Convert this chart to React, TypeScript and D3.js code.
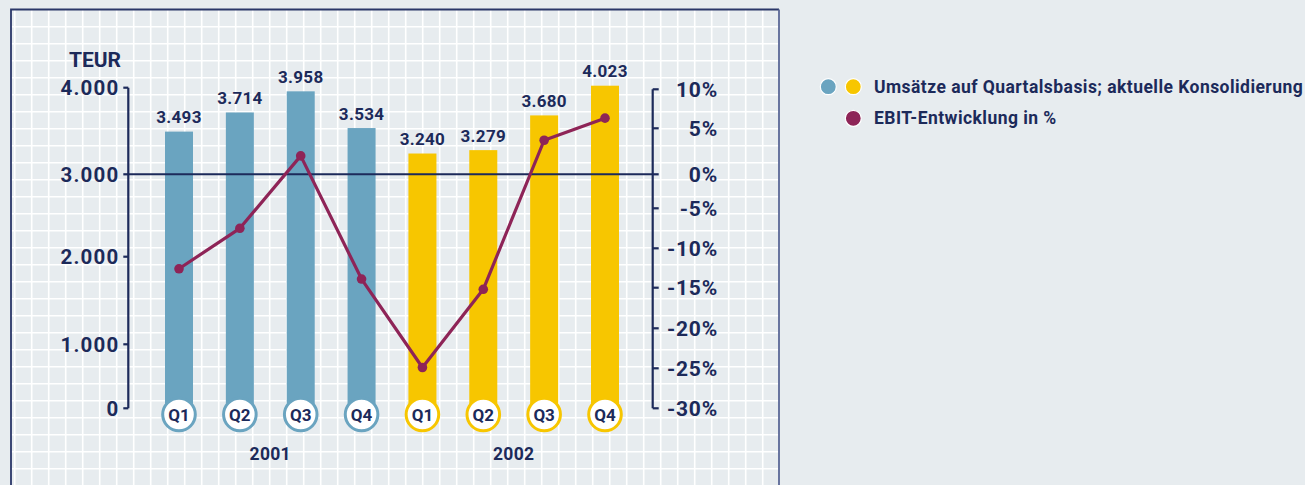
import React from "react";
import * as d3 from "d3";

const quarters = ["Q1", "Q2", "Q3", "Q4", "Q1", "Q2", "Q3", "Q4"];
const years = ["2001", "2001", "2001", "2001", "2002", "2002", "2002", "2002"];
const yearLabels = ["2001", "2002"];
const revenue = [3493, 3714, 3958, 3534, 3240, 3279, 3680, 4023];
const revenueLabels = ["3.493", "3.714", "3.958", "3.534", "3.240", "3.279", "3.680", "4.023"];
const ebit = [-12.6, -7.5, 2.0, -13.9, -24.9, -15.2, 3.7, 6.3];
const leftTicks = [0, 1000, 2000, 3000, 4000];
const leftTickLabels = ["0", "1.000", "2.000", "3.000", "4.000"];
const rightTicks = [-30, -25, -20, -15, -10, -5, 0, 5, 10];
const rightTickLabels = ["-30%", "-25%", "-20%", "-15%", "-10%", "-5%", "0%", "5%", "10%"];
const legendItems = ["Umsätze auf Quartalsbasis; aktuelle Konsolidierung", "EBIT-Entwicklung in %"];

const W = 1305;
const H = 485;
const BG = "#e7ecef";
const NAVY = "#1c2a5a";
const BLUE = "#6aa4c0";
const YELLOW = "#f7c600";
const MAROON = "#8e2457";
const FONT = "Roboto, 'DejaVu Sans', sans-serif";

export default function App() {
  const idx = quarters.map((_, i) => i);
  const x = d3.scalePoint<number>().domain(idx).range([179, 605]);
  const yL = d3.scaleLinear().domain(leftTicks).range([408.3, 344.3, 256.7, 174.3, 87.7]);
  const yR = d3
    .scaleLinear()
    .domain(rightTicks)
    .range([408.3, 368.3, 328.3, 287.7, 248.3, 208.3, 174.3, 128.3, 89.3]);

  const frame = { x0: 11, y0: 9.5, x1: 779, y1: 490 };
  const gridStep = 17;
  const vLines = d3.range(14.7, frame.x1 - 2, gridStep);
  const hLines = d3.range(26.7, H + 1, gridStep);

  const line = d3
    .line<number>()
    .x((_, i) => x(i) as number)
    .y((d) => yR(d));

  const barW = 28;
  const leftAxisX = 128.3;
  const rightAxisX = 652.7;
  const circleY = 414.5;

  const yearCenter = (yr: string) => {
    const xs = idx.filter((i) => years[i] === yr).map((i) => x(i) as number);
    return d3.mean(xs) as number;
  };

  return (
    <svg
      width={W}
      height={H}
      style={{ position: "absolute", left: 0, top: 0, background: BG }}
      fontFamily={FONT}
    >
      <rect x={0} y={0} width={W} height={H} fill={BG} />
      {/* grid */}
      <g stroke="#ffffff" strokeWidth={1.6}>
        {vLines.map((vx, i) => (
          <line key={"v" + i} x1={vx} x2={vx} y1={frame.y0} y2={H} />
        ))}
        {hLines.map((hy, i) => (
          <line key={"h" + i} x1={frame.x0} x2={frame.x1} y1={hy} y2={hy} />
        ))}
      </g>
      {/* frame */}
      <path
        d={`M${frame.x0},${frame.y1} L${frame.x0},${frame.y0} L${frame.x1},${frame.y0}`}
        fill="none"
        stroke="#2a3768"
        strokeWidth={1.8}
      />
      <line x1={frame.x1} x2={frame.x1} y1={frame.y0} y2={frame.y1} stroke="#5a6896" strokeWidth={1.8} />

      {/* bars */}
      {revenue.map((v, i) => (
        <rect
          key={"b" + i}
          x={(x(i) as number) - barW / 2}
          y={yL(v)}
          width={barW}
          height={yL(0) - yL(v)}
          fill={years[i] === "2001" ? BLUE : YELLOW}
        />
      ))}

      {/* value labels */}
      {revenue.map((v, i) => (
        <text
          key={"vl" + i}
          x={x(i) as number}
          y={yL(v) - 8.5}
          textAnchor="middle"
          fontSize={17}
          fontWeight={700}
          fill={NAVY}
          letterSpacing={0.3}
        >
          {revenueLabels[i]}
        </text>
      ))}

      {/* horizontal reference line (3000 / 0%) */}
      <line x1={leftAxisX} x2={rightAxisX} y1={yL(3000)} y2={yL(3000)} stroke={NAVY} strokeWidth={2} />

      {/* left axis */}
      <line x1={leftAxisX} x2={leftAxisX} y1={yL(4000)} y2={yL(0)} stroke={NAVY} strokeWidth={2.2} />
      {leftTicks.map((t, i) => (
        <g key={"lt" + i}>
          <line x1={leftAxisX - 5} x2={leftAxisX} y1={yL(t)} y2={yL(t)} stroke={NAVY} strokeWidth={2.2} />
          <text
            x={119.5}
            y={yL(t) + 7.2}
            textAnchor="end"
            fontSize={20.5}
            fontWeight={700}
            fill={NAVY}
            letterSpacing={1.2}
          >
            {leftTickLabels[i]}
          </text>
        </g>
      ))}
      <text x={121} y={66.7} textAnchor="end" fontSize={21} fontWeight={700} fill={NAVY}>
        TEUR
      </text>

      {/* right axis */}
      <line x1={rightAxisX} x2={rightAxisX} y1={yR(10)} y2={yR(-30)} stroke={NAVY} strokeWidth={2.2} />
      {rightTicks.map((t, i) => (
        <g key={"rt" + i}>
          <line x1={rightAxisX} x2={rightAxisX + 6} y1={yR(t)} y2={yR(t)} stroke={NAVY} strokeWidth={2.2} />
          <text
            x={718}
            y={yR(t) + 7.5}
            textAnchor="end"
            fontSize={21}
            fontWeight={700}
            fill={NAVY}
            letterSpacing={0.8}
          >
            {rightTickLabels[i]}
          </text>
        </g>
      ))}

      {/* EBIT line */}
      <path d={line(ebit) || ""} fill="none" stroke={MAROON} strokeWidth={3.2} strokeLinejoin="round" />
      {ebit.map((v, i) => (
        <circle key={"p" + i} cx={x(i) as number} cy={yR(v)} r={4.8} fill={MAROON} />
      ))}

      {/* quarter circles */}
      {quarters.map((q, i) => (
        <g key={"q" + i}>
          <circle
            cx={x(i) as number}
            cy={circleY}
            r={16.3}
            fill="#ffffff"
            stroke={years[i] === "2001" ? BLUE : YELLOW}
            strokeWidth={3}
          />
          <text
            x={x(i) as number}
            y={circleY + 6.2}
            textAnchor="middle"
            fontSize={17}
            fontWeight={700}
            fill={NAVY}
          >
            {q}
          </text>
        </g>
      ))}

      {/* year labels */}
      {yearLabels.map((yr) => (
        <text
          key={yr}
          x={yearCenter(yr)}
          y={460}
          textAnchor="middle"
          fontSize={17.5}
          fontWeight={700}
          fill={NAVY}
          letterSpacing={0.3}
        >
          {yr}
        </text>
      ))}

      {/* legend */}
      <circle cx={828.3} cy={86.7} r={8} fill={BLUE} stroke="#ffffff" strokeWidth={1.2} />
      <circle cx={853.3} cy={86.7} r={8} fill={YELLOW} stroke="#ffffff" strokeWidth={1.2} />
      <circle cx={853.3} cy={118.3} r={8} fill={MAROON} stroke="#ffffff" strokeWidth={1.2} />
      <text x={874} y={93.3} fontSize={17.5} fontWeight={700} fill={NAVY} letterSpacing={0.45}>
        {legendItems[0]}
      </text>
      <text x={874} y={124.3} fontSize={17.5} fontWeight={700} fill={NAVY} letterSpacing={0.45}>
        {legendItems[1]}
      </text>
    </svg>
  );
}
